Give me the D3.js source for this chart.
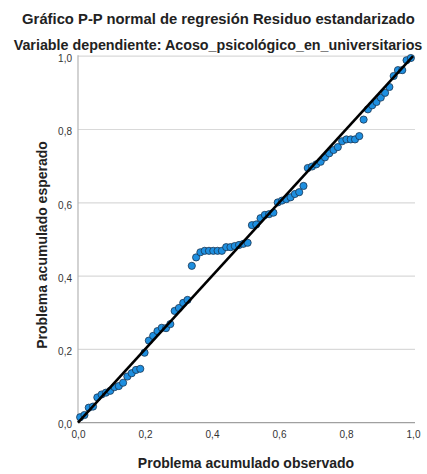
<!DOCTYPE html>
<html>
<head>
<meta charset="utf-8">
<script src="https://cdn.jsdelivr.net/npm/d3@7"></script>
<style>
  html, body { margin: 0; padding: 0; background: #fff; }
  svg { display: block; }
</style>
</head>
<body>
<svg id="chart" width="427" height="474"></svg>
<script>
// Observed cumulative probability (x)
const observed = [
  0.0064, 0.0192, 0.0321, 0.0449, 0.0577, 0.0705, 0.0833, 0.0962, 0.1090, 0.1218,
  0.1346, 0.1474, 0.1603, 0.1731, 0.1859, 0.1987, 0.2115, 0.2244, 0.2372, 0.2500,
  0.2628, 0.2756, 0.2885, 0.3013, 0.3141, 0.3269, 0.3397, 0.3526, 0.3654, 0.3782,
  0.3910, 0.4038, 0.4167, 0.4295, 0.4423, 0.4551, 0.4679, 0.4808, 0.4936, 0.5064,
  0.5192, 0.5321, 0.5449, 0.5577, 0.5705, 0.5833, 0.5962, 0.6090, 0.6218, 0.6346,
  0.6474, 0.6603, 0.6731, 0.6859, 0.6987, 0.7115, 0.7244, 0.7372, 0.7500, 0.7628,
  0.7756, 0.7885, 0.8013, 0.8141, 0.8269, 0.8397, 0.8526, 0.8654, 0.8782, 0.8910,
  0.9038, 0.9167, 0.9295, 0.9423, 0.9551, 0.9679, 0.9808, 0.9936
];
// Expected cumulative probability (y)
const expected = [
  0.015, 0.021, 0.041, 0.044, 0.069, 0.077, 0.082, 0.087, 0.097, 0.100,
  0.109, 0.126, 0.135, 0.144, 0.147, 0.191, 0.224, 0.237, 0.250, 0.259,
  0.258, 0.269, 0.305, 0.313, 0.327, 0.335, 0.428, 0.451, 0.465, 0.469,
  0.469, 0.469, 0.469, 0.469, 0.479, 0.479, 0.482, 0.485, 0.488, 0.491,
  0.539, 0.541, 0.558, 0.567, 0.569, 0.573, 0.601, 0.606, 0.610, 0.615,
  0.624, 0.629, 0.646, 0.695, 0.699, 0.705, 0.712, 0.724, 0.735, 0.744,
  0.752, 0.768, 0.773, 0.773, 0.773, 0.782, 0.827, 0.855, 0.866, 0.875,
  0.887, 0.900, 0.916, 0.946, 0.962, 0.962, 0.989, 0.995
];
const tickValues = [0, 0.2, 0.4, 0.6, 0.8, 1.0];
const tickLabels = ["0,0", "0,2", "0,4", "0,6", "0,8", "1,0"];
const refLine = [0, 1];

const titleText = "Gráfico P-P normal de regresión Residuo estandarizado";
const subtitleText = "Variable dependiente: Acoso_psicológico_en_universitarios";
const xTitle = "Problema acumulado observado";
const yTitle = "Problema acumulado esperado";

const svg = d3.select("#chart");
const font = "'Liberation Sans', Arial, sans-serif";

const x = d3.scaleLinear().domain([0, 1]).range([78, 413]);
const y = d3.scaleLinear().domain([0, 1]).range([422.7, 56.2]);

// gridlines
svg.append("g").selectAll("line")
  .data(tickValues.filter(d => d > 0))
  .join("line")
  .attr("x1", x(0)).attr("x2", 415)
  .attr("y1", d => y(d)).attr("y2", d => y(d))
  .attr("stroke", "#d9d9d9").attr("stroke-width", 1.2);

// axes lines
svg.append("line").attr("x1", x(0)).attr("x2", x(0)).attr("y1", y(1) - 1).attr("y2", y(0))
  .attr("stroke", "#b5b5b5").attr("stroke-width", 1.2);
svg.append("line").attr("x1", x(0)).attr("x2", 415).attr("y1", y(0)).attr("y2", y(0))
  .attr("stroke", "#a0a0a0").attr("stroke-width", 1.2);

// y axis tick labels
const yAxis = d3.axisLeft(y).tickValues(tickValues).tickSize(0).tickPadding(6)
  .tickFormat((d, i) => tickLabels[i]);
const gy = svg.append("g").attr("transform", `translate(${x(0)},2)`).call(yAxis);
gy.select(".domain").remove();
gy.selectAll("text").attr("font-family", font).attr("font-size", 10).attr("fill", "#333");

const xAxis = d3.axisBottom(x).tickValues(tickValues).tickSize(0).tickPadding(8)
  .tickFormat((d, i) => tickLabels[i]);
const gx = svg.append("g").attr("transform", `translate(0,${y(0)})`).call(xAxis);
gx.select(".domain").remove();
gx.selectAll("text").attr("font-family", font).attr("font-size", 10).attr("fill", "#333");

// points
const pts = observed.map((d, i) => ({ o: d, e: expected[i] }));
svg.append("g").selectAll("circle")
  .data(pts).join("circle")
  .attr("cx", d => x(d.o)).attr("cy", d => y(d.e)).attr("r", 3.6)
  .attr("fill", "#1e8fe0").attr("stroke", "#1b3550").attr("stroke-width", 0.8);

// reference line
svg.append("line")
  .attr("x1", x(refLine[0])).attr("y1", y(refLine[0]))
  .attr("x2", x(refLine[1])).attr("y2", y(refLine[1]))
  .attr("stroke", "#000").attr("stroke-width", 2.6);

// titles
svg.append("text").attr("x", 218.5).attr("y", 23.5).attr("text-anchor", "middle")
  .attr("font-family", font).attr("font-weight", "bold").attr("font-size", 14.8)
  .attr("fill", "#222").text(titleText);
svg.append("text").attr("x", 218).attr("y", 49.5).attr("text-anchor", "middle")
  .attr("font-family", font).attr("font-weight", "bold").attr("font-size", 14.3)
  .attr("fill", "#222").text(subtitleText);
svg.append("text").attr("x", 246).attr("y", 468).attr("text-anchor", "middle")
  .attr("font-family", font).attr("font-weight", "bold").attr("font-size", 14)
  .attr("fill", "#222").text(xTitle);
svg.append("text").attr("transform", "translate(47,245) rotate(-90)").attr("text-anchor", "middle")
  .attr("font-family", font).attr("font-weight", "bold").attr("font-size", 14)
  .attr("fill", "#222").text(yTitle);
</script>
</body>
</html>
